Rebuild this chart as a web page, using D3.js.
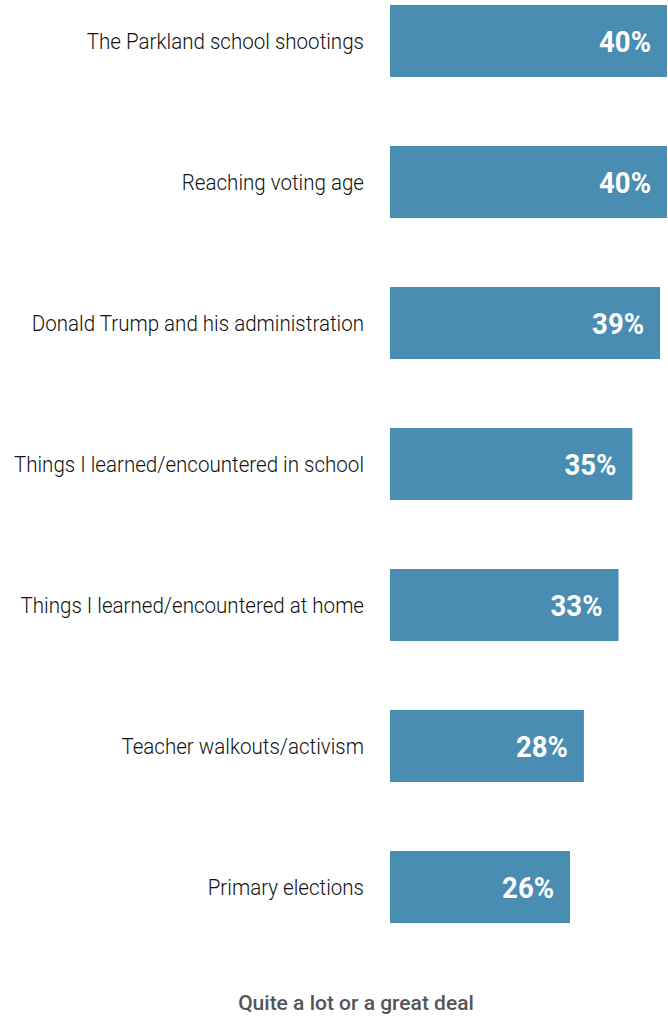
<!DOCTYPE html>
<html>
<head>
<meta charset="utf-8">
<script src="https://cdn.jsdelivr.net/npm/d3@7"></script>
<style>
  html, body { margin: 0; padding: 0; background: #fff; }
  svg { display: block; }
</style>
</head>
<body>
<svg id="chart" width="668" height="1017"></svg>
<script>
// Influences on political views — share saying "quite a lot or a great deal"
const categories = [
  "The Parkland school shootings",
  "Reaching voting age",
  "Donald Trump and his administration",
  "Things I learned/encountered in school",
  "Things I learned/encountered at home",
  "Teacher walkouts/activism",
  "Primary elections"
];
const values = [40, 40, 39, 35, 33, 28, 26];
const axisTitle = "Quite a lot or a great deal";

const svg = d3.select("#chart");
const labelCondense = 0.935; // narrows Roboto toward a condensed face
const valueCondense = 0.95;

const x = d3.scaleLinear().domain([0, 40]).range([390, 667]);
const y = d3.scaleBand()
  .domain(categories)
  .range([5, 923])
  .paddingInner(69 / 141)
  .paddingOuter(0);

const rows = svg.append("g")
  .selectAll("g")
  .data(categories.map((c, i) => ({ c, v: values[i] })))
  .join("g");

rows.append("rect")
  .attr("x", x(0))
  .attr("y", d => y(d.c))
  .attr("width", d => x(d.v) - x(0))
  .attr("height", y.bandwidth())
  .attr("fill", "#4a8db2");

rows.append("text")
  .attr("transform", d => `translate(364,${y(d.c) + y.bandwidth() / 2 + 8}) scale(${labelCondense},1)`)
  .attr("text-anchor", "end")
  .attr("font-family", "Roboto, sans-serif")
  .attr("font-weight", 300)
  .attr("font-size", 22)
  .attr("fill", "#111")
  .text(d => d.c);

rows.append("text")
  .attr("transform", d => `translate(${x(d.v) - 16},${y(d.c) + y.bandwidth() / 2 + 11}) scale(${valueCondense},1)`)
  .attr("text-anchor", "end")
  .attr("font-family", "Roboto, sans-serif")
  .attr("font-weight", 700)
  .attr("font-size", 29)
  .attr("fill", "#fff")
  .text(d => d.v + "%");

svg.append("text")
  .attr("transform", "translate(356,1010)")
  .attr("text-anchor", "middle")
  .attr("font-family", "Roboto, sans-serif")
  .attr("font-weight", 500)
  .attr("font-size", 21)
  .attr("fill", "#555")
  .text(axisTitle);
</script>
</body>
</html>
